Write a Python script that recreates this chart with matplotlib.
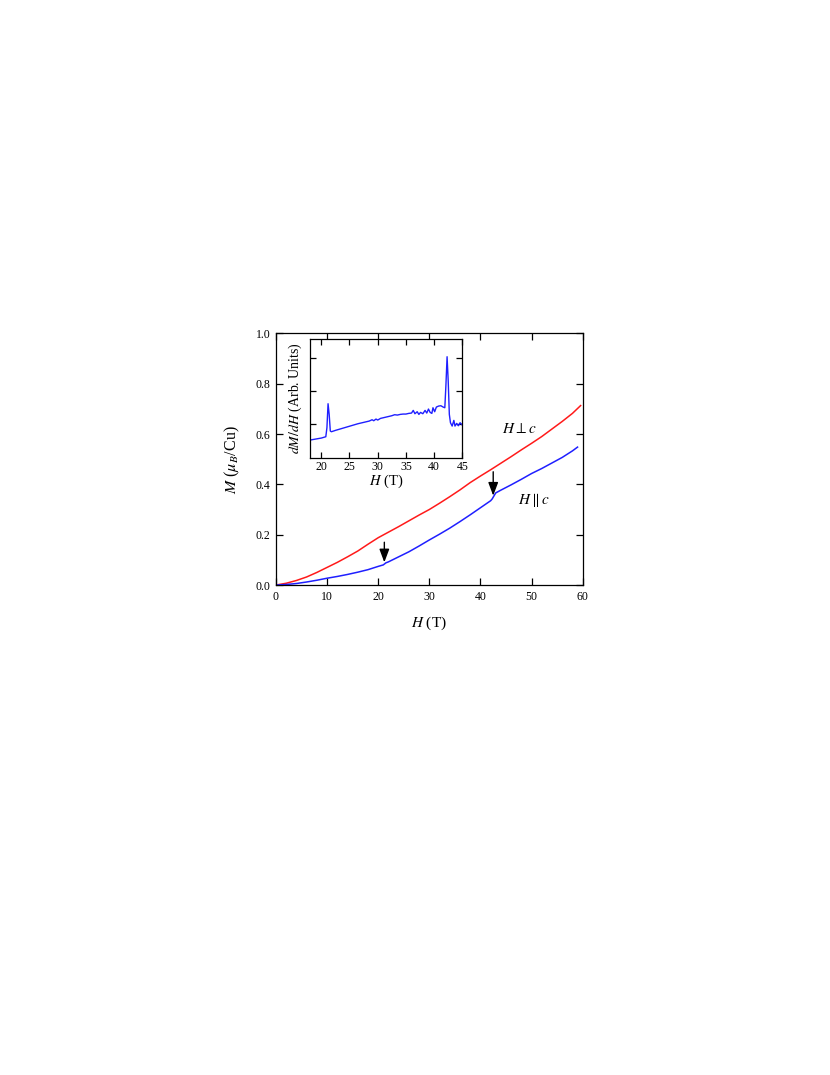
import matplotlib.pyplot as plt
import numpy as np

plt.rcParams['font.family'] = ['Liberation Serif', 'DejaVu Serif']
plt.rcParams['mathtext.fontset'] = 'stix'

# main panel: magnetization vs field
h_perp = [0, 2, 4, 6, 8, 10, 12, 14, 16, 18, 20, 22, 24, 26, 28, 30, 32, 34, 36, 38,
          40, 42, 44, 46, 48, 50, 52, 54, 56, 58, 59.6]
m_perp = [0.0, 0.007, 0.018, 0.032, 0.05, 0.07, 0.09, 0.112, 0.135, 0.162, 0.188, 0.21,
          0.232, 0.255, 0.278, 0.3, 0.325, 0.351, 0.378, 0.407, 0.433, 0.458, 0.484, 0.51,
          0.537, 0.563, 0.59, 0.62, 0.65, 0.682, 0.713]

h_par = [0, 2, 4, 6, 8, 10, 12, 14, 16, 18, 20, 21, 21.5, 22, 24, 26, 28, 30, 32, 34, 36,
         38, 40, 42, 42.3, 42.7, 43, 44, 46, 48, 50, 52, 54, 56, 57, 58, 59]
m_par = [0.0, 0.002, 0.006, 0.012, 0.019, 0.027, 0.034, 0.042, 0.051, 0.061, 0.074, 0.08,
         0.088, 0.092, 0.112, 0.132, 0.155, 0.179, 0.202, 0.226, 0.252, 0.279, 0.307, 0.335,
         0.342, 0.356, 0.366, 0.377, 0.398, 0.42, 0.443, 0.463, 0.485, 0.507, 0.52, 0.533,
         0.548]

# transition fields marked by arrows
arrow_h = [21.2, 42.5]
arrow_tip = [0.09, 0.355]
arrow_tail = [0.17, 0.45]

# inset: derivative dM/dH
h_ins = [18.0, 19.0, 20.0, 20.8, 21.0, 21.2, 21.4, 21.6, 21.8, 22.5, 23.5, 24.5, 25.5, 26.5,
         27.5, 28.5, 29.0, 29.3, 29.7, 30.0, 30.5, 31.0, 31.5, 32.0, 32.5, 33.0, 33.5, 34.0,
         34.5, 35.0, 35.5, 36.0, 36.3, 36.6, 37.0, 37.3, 37.6, 38.0, 38.4, 38.7, 39.0, 39.3,
         39.6, 39.8, 40.1, 40.4, 40.8, 41.2, 41.6, 41.9, 42.1, 42.3, 42.5, 42.7, 42.9, 43.2,
         43.5, 43.7, 44.0, 44.3, 44.6, 45.0]
d_ins = [0.53, 0.56, 0.59, 0.63, 0.9, 1.62, 1.3, 0.8, 0.78, 0.82, 0.87, 0.92, 0.97, 1.02,
         1.06, 1.1, 1.14, 1.11, 1.16, 1.13, 1.18, 1.2, 1.22, 1.24, 1.26, 1.29, 1.28, 1.3,
         1.31, 1.31, 1.33, 1.34, 1.42, 1.32, 1.38, 1.3, 1.36, 1.32, 1.42, 1.34, 1.46, 1.36,
         1.33, 1.5, 1.38, 1.52, 1.55, 1.56, 1.52, 1.5, 2.2, 3.03, 2.3, 1.3, 1.05, 0.95,
         1.12, 0.95, 1.03, 0.96, 1.05, 0.98]

red = '#ff1a1a'
blue = '#1f1fff'

fig = plt.figure(figsize=(8.3, 10.75), dpi=100)
ax = fig.add_axes([0.3325, 0.4558, 0.3695, 0.2341])
ax.plot(h_perp, m_perp, color=red, lw=1.1)
ax.plot(h_par, m_par, color=blue, lw=1.1)
for h, tip, tail in zip(arrow_h, arrow_tip, arrow_tail):
    ax.annotate('', xy=(h, tip), xytext=(h, tail),
                arrowprops=dict(arrowstyle='-|>,head_length=0.8,head_width=0.3',
                                color='k', lw=1, mutation_scale=10, shrinkA=0, shrinkB=0))
ax.text(47.7, 0.62, r'$H\perp c$', fontsize=11, ha='center', va='center')
ax.text(50.4, 0.338, r'$H\parallel c$', fontsize=11, ha='center', va='center')
ax.set_xlim(0, 60)
ax.set_ylim(0, 1.0)
ax.set_xticks([0, 10, 20, 30, 40, 50, 60])
ax.set_yticks([0.0, 0.2, 0.4, 0.6, 0.8, 1.0])
ax.set_yticklabels(['0.0', '0.2', '0.4', '0.6', '0.8', '1.0'])
ax.tick_params(direction='in', top=True, right=True, length=5, width=0.9,
               labelsize=8.5, pad=4)
ax.set_xlabel(r'$H$ (T)', fontsize=11, labelpad=9)
ax.set_ylabel(r'$M$ ($\mu_B$/Cu)', fontsize=11.5, labelpad=10)
for s in ax.spines.values():
    s.set_linewidth(0.9)

ins = fig.add_axes([0.3735, 0.5742, 0.1835, 0.1104])
ins.plot(h_ins, d_ins, color=blue, lw=1.0)
ins.set_xlim(18, 45)
ins.set_ylim(0, 3.56)
ins.set_xticks([20, 25, 30, 35, 40, 45])
ins.set_yticks([1, 2, 3])
ins.set_yticklabels([])
ins.tick_params(direction='in', top=True, right=True, length=4, width=0.9,
                labelsize=8.5, pad=2)
ins.set_xlabel(r'$H$ (T)', fontsize=10.5, labelpad=0)
ins.set_ylabel(r'$dM/dH$ (Arb. Units)', fontsize=10, labelpad=2)
for s in ins.spines.values():
    s.set_linewidth(0.9)

fig.savefig('out.png', dpi=100)
